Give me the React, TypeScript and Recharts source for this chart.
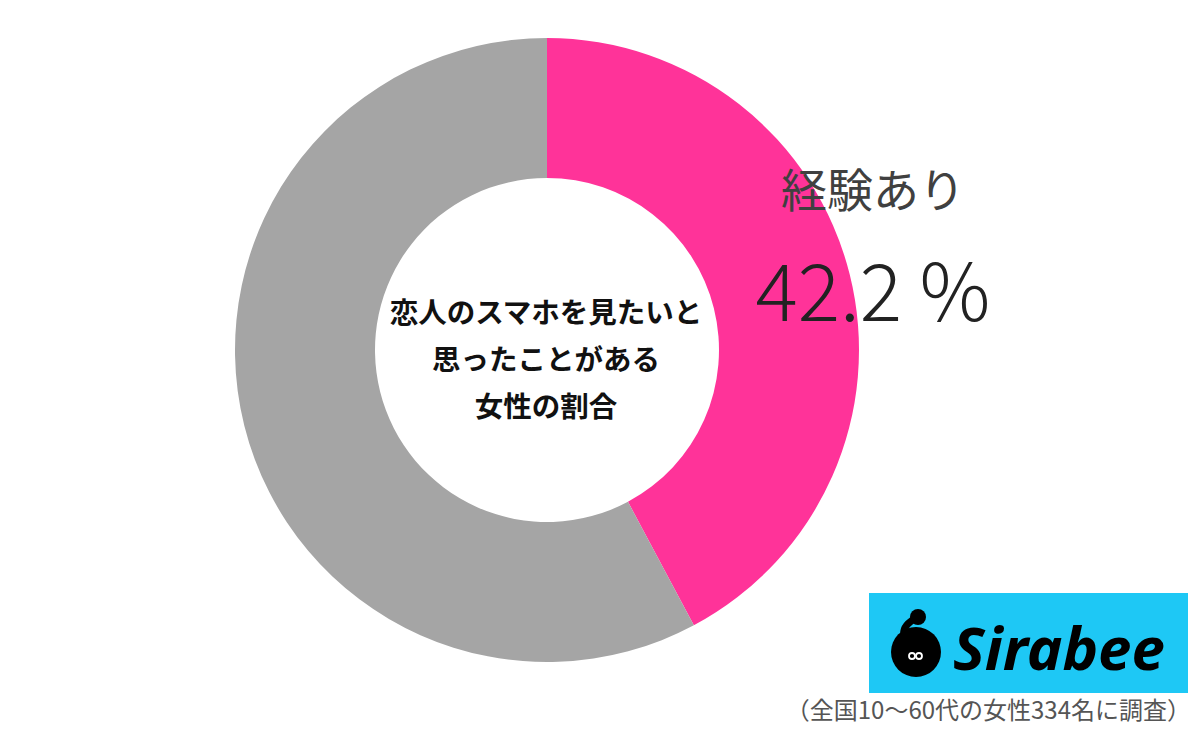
import { Pie, PieChart, Cell } from "recharts";

const categories = ["経験あり", "経験なし"];
const values = [42.2, 57.8];
const colors = ["#FF3399", "#A5A5A5"];
const titleLines = ["恋人のスマホを見たいと", "思ったことがある", "女性の割合"];
const note = "（全国10～60代の女性334名に調査）";

const data = categories.map((name, i) => ({ name, value: values[i] }));

const FONT = "'Noto Sans CJK JP', 'Noto Sans', sans-serif";

const renderLabel = (props: any) => {
    if (props.index !== 0) return null;
    const x = props.cx + 326;
    return (
        <g>
            <text x={x} y={207} textAnchor="middle" fontFamily={FONT} fontSize={46} fill="#404040">
                {props.name}
            </text>
            <text x={x} y={321} textAnchor="middle" fontFamily={FONT} fontSize={79} fontWeight={300} fill="#222">
                {`${props.value} %`}
            </text>
        </g>
    );
};

export default function App() {
    return (
        <div style={{ position: "absolute", left: 0, top: 0, width: 1200, height: 731, background: "#fff" }}>
            <PieChart width={1200} height={731} margin={{ top: 0, right: 0, bottom: 0, left: 0 }}>
                <Pie
                    data={data}
                    dataKey="value"
                    nameKey="name"
                    cx={547}
                    cy={350}
                    innerRadius={172}
                    outerRadius={312}
                    startAngle={90}
                    endAngle={-270}
                    stroke="none"
                    label={renderLabel}
                    labelLine={false}
                    isAnimationActive={false}
                >
                    {data.map((d, i) => (
                        <Cell key={d.name} fill={colors[i]} />
                    ))}
                </Pie>
            </PieChart>
            <svg width={1200} height={731} style={{ position: "absolute", left: 0, top: 0 }}>
                {titleLines.map((t, i) => (
                    <text key={t} x={546} y={323 + i * 47} textAnchor="middle" fontFamily={FONT} fontSize={28.5} fontWeight={700} fill="#111">
                        {t}
                    </text>
                ))}
                {/* logo */}
                <rect x={869} y={593} width={319} height={100} fill="#1EC8F5" />
                <path d="M918 617 C 896 628, 903 642, 914 646" stroke="#000" strokeWidth={7} fill="none" />
                <circle cx={918} cy={617} r={8} fill="#000" />
                <circle cx={916} cy={652} r={25} fill="#000" />
                <circle cx={912} cy={656} r={3} fill="none" stroke="#fff" strokeWidth={1.8} />
                <circle cx={919} cy={656} r={3} fill="none" stroke="#fff" strokeWidth={1.8} />
                <text x={953} y={670} fontFamily="'Noto Sans', sans-serif" fontSize={60} fontWeight={700} fontStyle="italic" fill="#000">
                    Sirabee
                </text>
                <text x={1191} y={719} textAnchor="end" fontFamily={FONT} fontSize={24} fill="#555">
                    {note}
                </text>
            </svg>
        </div>
    );
}
